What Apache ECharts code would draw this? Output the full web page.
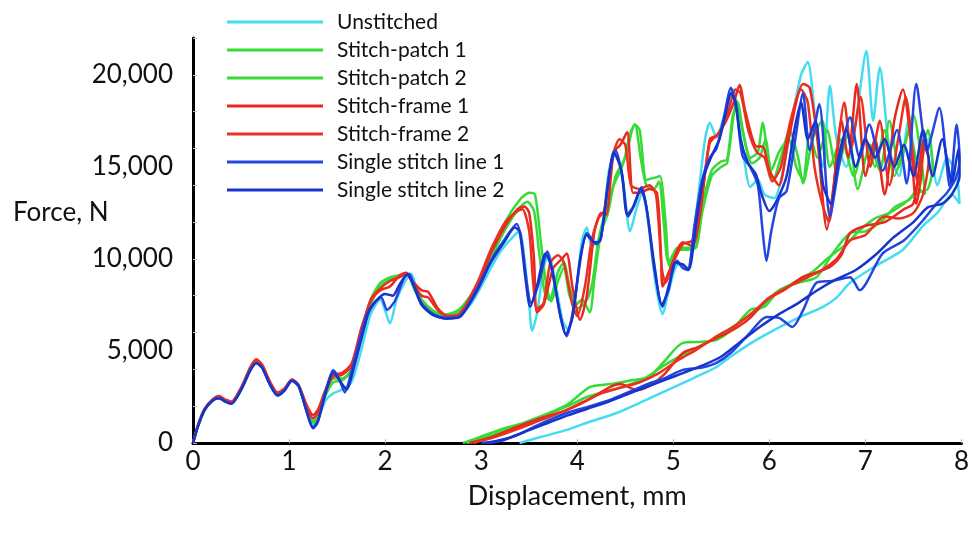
<!DOCTYPE html>
<html>
<head>
<meta charset="utf-8">
<script src="https://cdn.jsdelivr.net/npm/echarts@6/dist/echarts.min.js"></script>
<style>html,body{margin:0;padding:0;background:#fff}#c{width:972px;height:535px}</style>
</head>
<body>
<div id="c"></div>
<script>
const seriesNames = ['Unstitched','Stitch-patch 1','Stitch-patch 2','Stitch-frame 1','Stitch-frame 2','Single stitch line 1','Single stitch line 2'];
const xTicks = [0,1,2,3,4,5,6,7,8];
const yLabelValues = [0,5000,10000,15000,20000];

const unstitched = [[0,0],[0.05,900],[0.12,1800],[0.2,2300],[0.27,2450],[0.34,2250],[0.4,2150],[0.5,2900],[0.6,4000],[0.66,4350],[0.72,4100],[0.8,3200],[0.88,2600],[0.95,2850],[1.03,3400],[1.1,3100],[1.18,1850],[1.25,1000],[1.3,1300],[1.38,2300],[1.46,2700],[1.55,2900],[1.65,3300],[1.75,5000],[1.85,7000],[1.95,7800],[2.0,7200],[2.05,6500],[2.12,7800],[2.2,8700],[2.27,9200],[2.35,8000],[2.45,7300],[2.6,6900],[2.75,6900],[2.9,7600],[3.05,9000],[3.2,10400],[3.35,11300],[3.4,11500],[3.45,10000],[3.5,7500],[3.53,6100],[3.58,7000],[3.65,9500],[3.7,10300],[3.78,8500],[3.85,6600],[3.9,6200],[3.97,7500],[4.05,11000],[4.1,11700],[4.15,10700],[4.25,11300],[4.33,14800],[4.4,15800],[4.48,14000],[4.55,11500],[4.62,12800],[4.68,13600],[4.75,11500],[4.82,8500],[4.89,7000],[4.95,8200],[5.05,9700],[5.15,9500],[5.25,13000],[5.33,16500],[5.38,17400],[5.45,16600],[5.53,17800],[5.62,19200],[5.68,17500],[5.75,15000],[5.8,13900],[5.88,14300],[5.95,13500],[6.05,13300],[6.15,15000],[6.25,18000],[6.33,20000],[6.4,20700],[6.48,17500],[6.56,15000],[6.63,19400],[6.7,16500],[6.8,15000],[6.9,17500],[7.01,21300],[7.08,17500],[7.15,20400],[7.25,16000],[7.35,14500],[7.45,17500],[7.55,15000],[7.65,16500],[7.75,14000],[7.85,15500],[7.95,14500],[7.98,13000],[7.9,13500],[7.75,12500],[7.6,11800],[7.39,10500],[7.1,9600],[6.84,8700],[6.7,7900],[6.56,7400],[6.3,6800],[6.0,6000],[5.8,5400],[5.6,4700],[5.45,4130],[5.2,3500],[4.95,2900],[4.7,2300],[4.41,1630],[4.1,1100],[3.89,710],[3.6,300],[3.4,0]];

const stitchPatch1 = [[0,0],[0.05,900],[0.12,1800],[0.2,2300],[0.27,2480],[0.34,2280],[0.4,2180],[0.5,2900],[0.6,4000],[0.66,4400],[0.72,4150],[0.8,3250],[0.88,2650],[0.95,2900],[1.03,3420],[1.1,3100],[1.18,1900],[1.25,1100],[1.3,1400],[1.38,2700],[1.46,3500],[1.55,3500],[1.65,4000],[1.75,5800],[1.85,7800],[1.95,8700],[2.05,9000],[2.15,9100],[2.23,9200],[2.3,8400],[2.38,7600],[2.5,7100],[2.64,7000],[2.78,7300],[2.96,8600],[3.1,10200],[3.25,12000],[3.4,13200],[3.5,13600],[3.56,13500],[3.62,11000],[3.68,8500],[3.73,7700],[3.8,8800],[3.86,9500],[3.92,8000],[3.98,7500],[4.05,7800],[4.13,7100],[4.18,9000],[4.25,11500],[4.32,12500],[4.4,14500],[4.5,15500],[4.6,17300],[4.65,17000],[4.72,14300],[4.8,14400],[4.86,14500],[4.92,12000],[4.96,9600],[5.04,10600],[5.15,10600],[5.24,10700],[5.3,12500],[5.4,14500],[5.5,15000],[5.56,15200],[5.62,17500],[5.66,18600],[5.72,17000],[5.8,15500],[5.88,15800],[5.93,17400],[5.98,15800],[6.04,14300],[6.12,15500],[6.21,17000],[6.3,15500],[6.35,14100],[6.45,16500],[6.55,17500],[6.63,15000],[6.75,16500],[6.88,14500],[7.0,16500],[7.1,15000],[7.2,17000],[7.3,14500],[7.4,16000],[7.5,17800],[7.58,15500],[7.62,13500],[7.55,13800],[7.45,13200],[7.3,12800],[7.18,12100],[7.0,11500],[6.84,11400],[6.66,10300],[6.49,9000],[6.3,8700],[6.1,8300],[5.95,7400],[5.8,7230],[5.62,6200],[5.45,5600],[5.3,5500],[5.1,5440],[4.9,4400],[4.75,3600],[4.58,3420],[4.35,3200],[4.13,3040],[3.9,2100],[3.71,1630],[3.45,1100],[3.19,710],[2.95,250],[2.81,0]];

const stitchPatch2 = [[0,0],[0.05,880],[0.12,1780],[0.2,2280],[0.27,2460],[0.34,2260],[0.4,2160],[0.5,2880],[0.6,3980],[0.66,4380],[0.72,4120],[0.8,3220],[0.88,2620],[0.95,2880],[1.03,3400],[1.1,3080],[1.18,1850],[1.25,1200],[1.3,1500],[1.38,2600],[1.46,3300],[1.55,3400],[1.65,3900],[1.75,5600],[1.85,7500],[1.95,8500],[2.05,8900],[2.15,9100],[2.23,9150],[2.3,8500],[2.38,7800],[2.5,7200],[2.64,6900],[2.78,7200],[2.96,8500],[3.1,10000],[3.25,11600],[3.4,12800],[3.48,13100],[3.55,12600],[3.6,10500],[3.66,8200],[3.71,7770],[3.8,9300],[3.86,9800],[3.92,8500],[4.0,7300],[4.08,7600],[4.15,8500],[4.22,11000],[4.3,12700],[4.38,14000],[4.48,15200],[4.55,16800],[4.6,17300],[4.66,15500],[4.72,14000],[4.8,13800],[4.85,14200],[4.9,12000],[4.95,9800],[5.04,10500],[5.15,10500],[5.24,10650],[5.3,12800],[5.4,14800],[5.5,15300],[5.56,15400],[5.62,17800],[5.67,18500],[5.73,16800],[5.82,15200],[5.9,15500],[5.96,16500],[6.02,14800],[6.1,15800],[6.2,16500],[6.28,15000],[6.35,14300],[6.42,16800],[6.5,15500],[6.6,17000],[6.7,14800],[6.82,16800],[6.92,13800],[7.05,16200],[7.15,14800],[7.25,17500],[7.35,15000],[7.45,16800],[7.55,15200],[7.65,17000],[7.7,15000],[7.65,13800],[7.55,13600],[7.4,13000],[7.25,12500],[7.1,12200],[6.95,11600],[6.8,10800],[6.6,10000],[6.45,9300],[6.25,8700],[6.05,8100],[5.9,7300],[5.7,6600],[5.5,5900],[5.3,5300],[5.1,4800],[4.9,4200],[4.7,3500],[4.5,3100],[4.3,2800],[4.1,2500],[3.9,2000],[3.65,1500],[3.4,1000],[3.15,500],[2.95,150],[2.85,0]];

const stitchFrame1 = [[0,0],[0.05,950],[0.12,1850],[0.2,2350],[0.27,2550],[0.34,2350],[0.4,2250],[0.5,3000],[0.6,4150],[0.66,4550],[0.72,4250],[0.8,3350],[0.88,2750],[0.95,2950],[1.03,3450],[1.1,3150],[1.18,2100],[1.25,1520],[1.3,1800],[1.38,2900],[1.46,3700],[1.55,3800],[1.65,4300],[1.75,6200],[1.85,7700],[1.95,8300],[2.05,8500],[2.15,9100],[2.22,9250],[2.3,8700],[2.38,8300],[2.45,8200],[2.55,7300],[2.65,6900],[2.78,7000],[2.96,8600],[3.1,10300],[3.25,11800],[3.38,12700],[3.45,12850],[3.5,12500],[3.55,10000],[3.58,7100],[3.65,7500],[3.75,9500],[3.84,10000],[3.89,10300],[3.95,8500],[4.03,6700],[4.1,8000],[4.18,11500],[4.25,12500],[4.3,12400],[4.38,15800],[4.45,16200],[4.52,16900],[4.58,13600],[4.65,13600],[4.75,13800],[4.83,13600],[4.87,10500],[4.89,8500],[4.97,9500],[5.1,10900],[5.2,10700],[5.28,12500],[5.38,16500],[5.45,16700],[5.55,17500],[5.63,18500],[5.69,19450],[5.75,18000],[5.87,16100],[5.93,16100],[6.0,14800],[6.1,14000],[6.2,16500],[6.35,19500],[6.42,19300],[6.5,16500],[6.6,11600],[6.67,14000],[6.75,17500],[6.82,15500],[6.91,19500],[7.0,14500],[7.1,16500],[7.2,13500],[7.3,17500],[7.39,19200],[7.47,16500],[7.53,13000],[7.58,14500],[7.6,16500],[7.56,15000],[7.5,13000],[7.4,12700],[7.2,12000],[7.0,11800],[6.84,11400],[6.75,10200],[6.63,9570],[6.45,9200],[6.35,9020],[6.15,8300],[5.97,7770],[5.8,6800],[5.62,6140],[5.45,5700],[5.25,5200],[5.1,4890],[4.9,3700],[4.75,3100],[4.62,2880],[4.45,3200],[4.34,3040],[4.1,2300],[3.89,1790],[3.65,1400],[3.37,870],[3.1,300],[2.88,0]];

const stitchFrame2 = [[0,0],[0.05,930],[0.12,1830],[0.2,2330],[0.27,2520],[0.34,2320],[0.4,2220],[0.5,2980],[0.6,4120],[0.66,4500],[0.72,4220],[0.8,3300],[0.88,2700],[0.95,2920],[1.03,3440],[1.1,3120],[1.18,2000],[1.25,1350],[1.3,1650],[1.38,2800],[1.46,3600],[1.55,3700],[1.65,4200],[1.75,6000],[1.85,7800],[1.95,8400],[2.05,8800],[2.15,9000],[2.22,9200],[2.3,8600],[2.38,8000],[2.45,7900],[2.55,7200],[2.65,6900],[2.78,7050],[2.96,8700],[3.1,10500],[3.25,12000],[3.38,12600],[3.43,12700],[3.5,11500],[3.54,8800],[3.58,7300],[3.65,7600],[3.72,9800],[3.8,10200],[3.86,9800],[3.95,7500],[4.0,6900],[4.08,8500],[4.15,11000],[4.22,12200],[4.28,12600],[4.36,15400],[4.44,16500],[4.5,16200],[4.56,14000],[4.65,13800],[4.75,14000],[4.82,13500],[4.88,9500],[4.92,8700],[5.0,9800],[5.1,10800],[5.2,11000],[5.3,13500],[5.38,16300],[5.47,16800],[5.56,17800],[5.65,19200],[5.7,19000],[5.78,17000],[5.87,15800],[5.95,15500],[6.03,14200],[6.12,15000],[6.22,17500],[6.33,19200],[6.4,18500],[6.47,15000],[6.55,13000],[6.62,12000],[6.7,15500],[6.78,18500],[6.85,16000],[6.95,18800],[7.05,15000],[7.15,17500],[7.25,14000],[7.35,16800],[7.42,18800],[7.5,15500],[7.55,14000],[7.62,16000],[7.66,15500],[7.6,13500],[7.5,12500],[7.35,12200],[7.2,12300],[7.0,11300],[6.84,11000],[6.7,10000],[6.55,9400],[6.4,9000],[6.2,8500],[6.0,7900],[5.85,7200],[5.65,6400],[5.45,5800],[5.25,5100],[5.05,4500],[4.85,3800],[4.65,3300],[4.45,3000],[4.25,2700],[4.05,2200],[3.85,1700],[3.6,1200],[3.35,700],[3.1,250],[2.92,0]];

const singleLine1 = [[0,0],[0.05,900],[0.12,1800],[0.2,2300],[0.27,2450],[0.34,2250],[0.4,2150],[0.5,2900],[0.6,4000],[0.66,4350],[0.72,4100],[0.8,3200],[0.88,2600],[0.95,2850],[1.03,3400],[1.1,3100],[1.18,1800],[1.25,850],[1.3,1200],[1.38,2800],[1.46,3950],[1.52,3500],[1.58,2750],[1.65,3900],[1.72,5300],[1.81,7000],[1.9,7700],[1.96,7900],[2.02,7230],[2.1,7700],[2.2,9000],[2.25,9200],[2.3,8600],[2.38,7600],[2.5,7000],[2.64,6800],[2.78,6900],[2.96,8400],[3.1,9900],[3.25,11100],[3.37,11900],[3.42,11000],[3.48,8500],[3.52,7600],[3.6,8700],[3.69,10400],[3.75,9000],[3.83,6800],[3.89,5800],[3.95,7000],[4.05,10500],[4.1,11400],[4.2,10800],[4.25,11200],[4.33,14500],[4.4,15900],[4.47,14500],[4.53,12300],[4.6,13000],[4.67,13900],[4.73,12500],[4.8,9500],[4.89,7400],[4.95,8500],[5.04,9900],[5.1,9500],[5.15,9400],[5.22,11800],[5.3,14300],[5.38,15500],[5.45,16000],[5.52,17500],[5.6,19300],[5.66,18000],[5.72,15600],[5.8,15000],[5.88,14000],[5.93,11500],[5.97,9900],[6.02,11500],[6.1,13300],[6.18,13700],[6.27,16500],[6.35,19000],[6.42,15900],[6.52,18400],[6.63,12300],[6.73,15200],[6.84,17700],[6.94,15500],[7.04,17300],[7.18,14800],[7.33,17000],[7.43,14100],[7.53,19500],[7.64,15900],[7.77,18200],[7.88,13900],[7.95,17300],[7.98,15500],[7.95,14500],[7.85,13600],[7.74,13000],[7.6,12100],[7.4,11000],[7.18,10300],[6.94,8300],[6.84,9000],[6.65,8800],[6.49,8700],[6.35,7200],[6.24,6300],[6.1,6800],[5.97,6850],[5.8,6000],[5.6,4900],[5.45,4350],[5.3,4100],[5.1,3970],[4.9,3500],[4.76,3260],[4.55,2800],[4.34,2340],[4.1,1950],[3.89,1630],[3.6,1000],[3.37,430],[3.2,100],[3.05,0]];

const singleLine2 = [[0,0],[0.05,880],[0.12,1780],[0.2,2280],[0.27,2430],[0.34,2230],[0.4,2130],[0.5,2880],[0.6,3980],[0.66,4330],[0.72,4080],[0.8,3180],[0.88,2580],[0.95,2830],[1.03,3380],[1.1,3080],[1.18,1750],[1.25,800],[1.3,1150],[1.38,2700],[1.46,3850],[1.52,3450],[1.6,2900],[1.67,4000],[1.75,5600],[1.83,7100],[1.92,7800],[2.0,8100],[2.08,8000],[2.15,8600],[2.23,9150],[2.3,8500],[2.38,7500],[2.5,6950],[2.64,6750],[2.78,6850],[2.96,8300],[3.1,9800],[3.25,11000],[3.35,11700],[3.4,11500],[3.46,9000],[3.51,7400],[3.58,8500],[3.67,10300],[3.74,9400],[3.82,7000],[3.88,5900],[3.95,6800],[4.03,10000],[4.1,11300],[4.18,10900],[4.24,11000],[4.32,14000],[4.38,15800],[4.46,14800],[4.52,12400],[4.58,12800],[4.66,13800],[4.72,12800],[4.8,9800],[4.88,7500],[4.95,8300],[5.02,9800],[5.1,9700],[5.16,9400],[5.24,12000],[5.32,14500],[5.4,15600],[5.48,16500],[5.55,18000],[5.6,19000],[5.65,18500],[5.7,16500],[5.78,15200],[5.86,14600],[5.92,13500],[6.0,12600],[6.08,13200],[6.18,14500],[6.26,17000],[6.33,18500],[6.4,16500],[6.48,17500],[6.56,14000],[6.64,13000],[6.72,15500],[6.8,17000],[6.9,15000],[7.0,16500],[7.1,15500],[7.2,16500],[7.3,15000],[7.4,16200],[7.5,14500],[7.6,17000],[7.7,14500],[7.8,16500],[7.9,14200],[7.97,16000],[7.98,14500],[7.9,13500],[7.8,13000],[7.65,12800],[7.5,12000],[7.3,11200],[7.1,10200],[6.9,9400],[6.7,8900],[6.5,8300],[6.3,7600],[6.1,7000],[5.9,6300],[5.7,5500],[5.5,4700],[5.3,4200],[5.1,3800],[4.9,3400],[4.7,3000],[4.5,2600],[4.3,2200],[4.1,1850],[3.9,1500],[3.7,1100],[3.5,700],[3.3,300],[3.1,50],[3.0,0]];

const seriesData = [unstitched, stitchPatch1, stitchPatch2, stitchFrame1, stitchFrame2, singleLine1, singleLine2];
const seriesColors = ['#45dcf0','#33dd33','#3ad83a','#e8281c','#ea3020','#2446e0','#1634cc'];

const chart = echarts.init(document.getElementById('c'), null, {renderer:'canvas'});
const FONT = 'Lato, "Open Sans", sans-serif';
chart.setOption({
  animation: false,
  backgroundColor: '#ffffff',
  grid: {left: 193, right: 10, top: 38, bottom: 92},
  legend: {
    orient: 'vertical', left: 222, top: 6, itemWidth: 96, itemHeight: 3, itemGap: 6, icon: 'rect',
    data: seriesNames,
    textStyle: {fontFamily: FONT, fontSize: 21, color: '#111', lineHeight: 22, padding: [0,0,0,9]}
  },
  xAxis: {
    type: 'value', min: 0, max: 8, interval: 1,
    name: 'Displacement, mm', nameLocation: 'middle', nameGap: 40,
    nameTextStyle: {fontFamily: FONT, fontSize: 27, color: '#111'},
    axisLine: {show: true, onZero: false, lineStyle: {color: '#000', width: 3}},
    axisTick: {show: true, inside: true, length: 4, lineStyle: {color: '#bbb', width: 1}},
    axisLabel: {fontFamily: FONT, fontSize: 26, color: '#111', margin: 6,
      formatter: v => xTicks.includes(v) ? String(v) : ''},
    splitLine: {show: false}
  },
  yAxis: [{
    type: 'value', min: 0, max: 22000, interval: 2000,
    axisLine: {show: true, onZero: false, lineStyle: {color: '#000', width: 3}},
    axisTick: {show: true, inside: true, length: 4, lineStyle: {color: '#bbb', width: 1}},
    axisLabel: {show: false},
    splitLine: {show: false}
  }, {
    type: 'value', min: 0, max: 22000, interval: 5000, position: 'left',
    axisLine: {show: false}, axisTick: {show: false}, splitLine: {show: false},
    axisLabel: {fontFamily: FONT, fontSize: 26, color: '#111', margin: 20,
      formatter: v => yLabelValues.includes(v) ? v.toLocaleString('en-US') : ''}
  }],
  graphic: [{
    type: 'text', left: 13, top: 200,
    style: {text: 'Force, N', font: '26px ' + FONT, fill: '#111'}
  }],
  series: seriesNames.map((n, i) => ({
    name: n, type: 'line', data: seriesData[i], yAxisIndex: 0,
    showSymbol: false, smooth: 0.25, clip: true,
    lineStyle: {color: seriesColors[i], width: 2.5},
    itemStyle: {color: seriesColors[i]}
  }))
});
</script>
</body>
</html>
